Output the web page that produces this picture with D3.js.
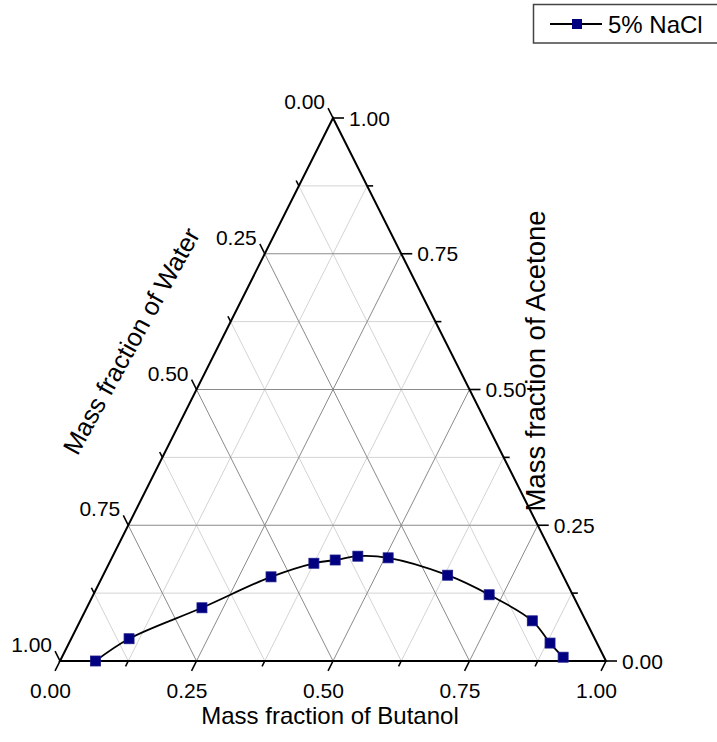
<!DOCTYPE html>
<html>
<head>
<meta charset="utf-8">
<script src="https://cdn.jsdelivr.net/npm/d3@7"></script>
<style>
  body { margin: 0; background: #fff; }
  svg { display: block; font-family: "Liberation Sans", Arial, sans-serif; }
</style>
</head>
<body>
<svg id="chart" width="717" height="742"></svg>
<script>
// tie-line data, 5% NaCl (mass fractions)
const butanol = [0.065, 0.106, 0.211, 0.309, 0.375, 0.411, 0.449, 0.506, 0.631, 0.725, 0.828, 0.881, 0.918];
const acetone = [0.000, 0.041, 0.098, 0.155, 0.180, 0.186, 0.193, 0.190, 0.158, 0.122, 0.074, 0.033, 0.007];
const seriesName = "5% NaCl";

const majorTicks = [0, 0.25, 0.5, 0.75, 1];
const minorTicks = [0.125, 0.375, 0.625, 0.875];
const tickLabels = ["0.00", "0.25", "0.50", "0.75", "1.00"];
const gridMajor = [0.25, 0.5, 0.75];
const gridMinor = [0.125, 0.375, 0.625, 0.875];

const titles = {
  bottom: "Mass fraction of Butanol",
  right: "Mass fraction of Acetone",
  left: "Mass fraction of Water"
};

const svg = d3.select("#chart");

// base runs along x, acetone sets height; apex sits at the base midpoint
const xScale = d3.scaleLinear([0, 1], [60, 606]);
const yScale = d3.scaleLinear([0, 1], [661, 118]);

// b = butanol, a = acetone (water = 1 - b - a)
function proj(b, a) {
  return [xScale(b + a / 2), yScale(a)];
}

const fontTick = 21;

// ---- grid lines
function gridLines(v) {
  // constant acetone, constant butanol, constant water
  return [
    [proj(0, v), proj(1 - v, v)],
    [proj(v, 0), proj(v, 1 - v)],
    [proj(1 - v, 0), proj(0, 1 - v)]
  ];
}
const grid = svg.append("g").attr("fill", "none");
gridMinor.forEach(v => {
  gridLines(v).forEach(seg => {
    grid.append("line")
      .attr("x1", seg[0][0]).attr("y1", seg[0][1])
      .attr("x2", seg[1][0]).attr("y2", seg[1][1])
      .attr("stroke", "#d4d4d4").attr("stroke-width", 1);
  });
});
gridMajor.forEach(v => {
  gridLines(v).forEach(seg => {
    grid.append("line")
      .attr("x1", seg[0][0]).attr("y1", seg[0][1])
      .attr("x2", seg[1][0]).attr("y2", seg[1][1])
      .attr("stroke", "#8a8a8a").attr("stroke-width", 1);
  });
});

// ---- triangle frame
const corners = [proj(0, 0), proj(1, 0), proj(0, 1)];
svg.append("path")
  .attr("d", d3.line()(corners) + "Z")
  .attr("fill", "none")
  .attr("stroke", "#000")
  .attr("stroke-width", 2)
  .attr("stroke-linejoin", "miter");

// ---- ticks
const L = Math.hypot(corners[2][0] - corners[0][0], corners[2][1] - corners[0][1]);
const dirDownLeft = [(corners[0][0] - corners[2][0]) / L, (corners[0][1] - corners[2][1]) / L];
const dirUpLeft = [(corners[2][0] - corners[1][0]) / L, (corners[2][1] - corners[1][1]) / L];
const dirRight = [1, 0];

const axes = [
  { pos: t => proj(t, 0), dir: dirDownLeft },          // butanol, bottom
  { pos: t => proj(1 - t, t), dir: dirRight },         // acetone, right
  { pos: t => proj(0, 1 - t), dir: dirUpLeft }         // water, left
];

const tickG = svg.append("g").attr("stroke", "#000").attr("stroke-width", 1.6);
axes.forEach(ax => {
  majorTicks.forEach(t => {
    const p = ax.pos(t);
    tickG.append("line")
      .attr("x1", p[0]).attr("y1", p[1])
      .attr("x2", p[0] + ax.dir[0] * 11).attr("y2", p[1] + ax.dir[1] * 11);
  });
  minorTicks.forEach(t => {
    const p = ax.pos(t);
    tickG.append("line")
      .attr("x1", p[0]).attr("y1", p[1])
      .attr("x2", p[0] + ax.dir[0] * 6).attr("y2", p[1] + ax.dir[1] * 6);
  });
});

// ---- tick labels
const labG = svg.append("g").attr("font-size", fontTick).attr("fill", "#000");
majorTicks.forEach((t, i) => {
  const pb = axes[0].pos(t);
  labG.append("text")
    .attr("x", pb[0] - 9.5).attr("y", pb[1] + 37)
    .attr("text-anchor", "middle")
    .text(tickLabels[i]);

  const pr = axes[1].pos(t);
  labG.append("text")
    .attr("x", pr[0] + 16).attr("y", pr[1])
    .attr("dy", "0.36em")
    .attr("text-anchor", "start")
    .text(tickLabels[i]);

  const pl = axes[2].pos(t);
  labG.append("text")
    .attr("x", pl[0] - 8).attr("y", pl[1] - 9)
    .attr("text-anchor", "end")
    .text(tickLabels[i]);
});

// ---- axis titles
svg.append("text")
  .attr("x", 330).attr("y", 724)
  .attr("text-anchor", "middle")
  .attr("font-size", 24)
  .text(titles.bottom);

svg.append("text")
  .attr("transform", "translate(535,361) rotate(-90)")
  .attr("dy", "0.36em")
  .attr("text-anchor", "middle")
  .attr("font-size", 27.5)
  .text(titles.right);

svg.append("text")
  .attr("transform", "translate(131,341) rotate(-61)")
  .attr("dy", "0.36em")
  .attr("text-anchor", "middle")
  .attr("font-size", 25.5)
  .text(titles.left);

// ---- data curve + markers
const pts = butanol.map((b, i) => proj(b, acetone[i]));
svg.append("path")
  .attr("d", d3.line().curve(d3.curveCatmullRom.alpha(0.5))(pts))
  .attr("fill", "none")
  .attr("stroke", "#000")
  .attr("stroke-width", 1.8);

const ms = 10;
svg.append("g").selectAll("rect")
  .data(pts)
  .join("rect")
  .attr("x", d => d[0] - ms / 2)
  .attr("y", d => d[1] - ms / 2)
  .attr("width", ms).attr("height", ms)
  .attr("fill", "#000080")
  .attr("stroke", "#1a1a8c")
  .attr("stroke-width", 0.8);

// ---- legend
const leg = svg.append("g");
leg.append("rect")
  .attr("x", 533.5).attr("y", 4.5)
  .attr("width", 200).attr("height", 38.5)
  .attr("fill", "#fff")
  .attr("stroke", "#444").attr("stroke-width", 1.5);
leg.append("line")
  .attr("x1", 550).attr("x2", 602).attr("y1", 24).attr("y2", 24)
  .attr("stroke", "#000").attr("stroke-width", 1.8);
leg.append("rect")
  .attr("x", 577 - ms / 2).attr("y", 24 - ms / 2)
  .attr("width", ms).attr("height", ms)
  .attr("fill", "#000080");
leg.append("text")
  .attr("x", 608).attr("y", 33)
  .attr("font-size", 24)
  .text(seriesName);
</script>
</body>
</html>
